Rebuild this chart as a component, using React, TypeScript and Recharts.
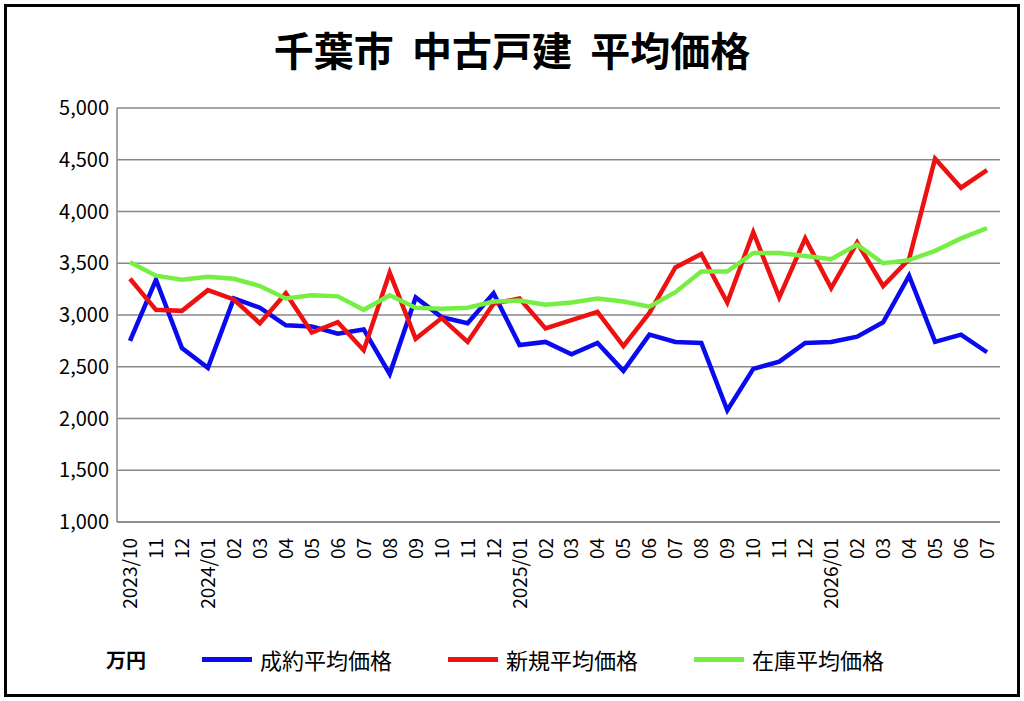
import { CartesianGrid, Line, LineChart, XAxis, YAxis } from 'recharts';

const months = [
  '2023/10', '11', '12', '2024/01', '02', '03', '04', '05', '06', '07', '08', '09', '10', '11', '12',
  '2025/01', '02', '03', '04', '05', '06', '07', '08', '09', '10', '11', '12',
  '2026/01', '02', '03', '04', '05', '06', '07',
];

const contracted = [
  2750, 3340, 2680, 2490, 3160, 3070, 2900, 2890, 2820, 2860, 2430, 3170, 2980, 2920, 3210,
  2710, 2740, 2620, 2730, 2460, 2810, 2740, 2730, 2080, 2480, 2550, 2730,
  2740, 2790, 2930, 3380, 2740, 2810, 2640,
];

const listed = [
  3350, 3050, 3040, 3240, 3150, 2920, 3210, 2830, 2930, 2660, 3410, 2770, 2970, 2740, 3110,
  3160, 2870, 2950, 3030, 2700, 3020, 3460, 3590, 3120, 3800, 3170, 3740,
  3260, 3700, 3280, 3540, 4510, 4230, 4400,
];

const stock = [
  3510, 3380, 3340, 3370, 3350, 3280, 3160, 3190, 3180, 3050, 3190, 3070, 3060, 3070, 3130,
  3140, 3100, 3120, 3160, 3130, 3080, 3220, 3420, 3420, 3600, 3600, 3570,
  3540, 3680, 3500, 3530, 3620, 3740, 3840,
];

const yTicks = [1000, 1500, 2000, 2500, 3000, 3500, 4000, 4500, 5000];

const series = [
  { key: 'contracted', name: '成約平均価格', color: '#0a0aef' },
  { key: 'listed', name: '新規平均価格', color: '#ee1111' },
  { key: 'stock', name: '在庫平均価格', color: '#77ee44' },
];

const data = months.map((m, i) => ({
  month: m,
  contracted: contracted[i],
  listed: listed[i],
  stock: stock[i],
}));

const font = '"Noto Sans CJK JP", "Noto Sans", sans-serif';

function MonthTick({ x, y, payload }: any) {
  return (
    <text x={x} y={y + 8} transform={`rotate(-90 ${x} ${y + 8})`} dy={7} textAnchor="end" fontSize={19} fill="#000" fontFamily={font}>
      {payload.value}
    </text>
  );
}

export default function App() {
  return (
    <div style={{ position: 'absolute', left: 0, top: 0, width: 1024, height: 701, background: '#fff', fontFamily: font }}>
      <div style={{ position: 'absolute', left: 4, top: 4, width: 1010, height: 687, border: '3px solid #000' }} />
      <div style={{ position: 'absolute', left: 0, top: 20, width: 1024, textAlign: 'center', fontSize: 40, fontWeight: 700, whiteSpace: 'pre' }}>
        {'千葉市  中古戸建  平均価格'}
      </div>
      <LineChart width={1024} height={701} data={data} margin={{ top: 108, right: 24, left: 52, bottom: 79 }}>
        <CartesianGrid vertical={false} stroke="#888" strokeWidth={1.5} />
        <XAxis
          dataKey="month"
          interval={0}
          tick={<MonthTick />}
          tickLine={false}
          axisLine={{ stroke: '#888', strokeWidth: 1.5 }}
          height={100}
          padding={{ left: 13, right: 13 }}
        />
        <YAxis
          domain={[1000, 5000]}
          ticks={yTicks}
          tickFormatter={(v: number) => v.toLocaleString('en-US')}
          tick={{ fontSize: 20, fill: '#000', fontFamily: font }}
          axisLine={{ stroke: '#888', strokeWidth: 1.5 }}
          tickLine={false}
          width={65}
        />
        {series.map((s) => (
          <Line
            key={s.key}
            dataKey={s.key}
            name={s.name}
            stroke={s.color}
            strokeWidth={4.5}
            dot={false}
            isAnimationActive={false}
          />
        ))}
      </LineChart>
      <div style={{ position: 'absolute', left: 106, top: 645, fontSize: 20, fontWeight: 700 }}>万円</div>
      {series.map((s, i) => (
        <div key={s.key} style={{ position: 'absolute', left: 202 + i * 246, top: 643, display: 'flex', alignItems: 'center', fontSize: 22 }}>
          <span style={{ display: 'inline-block', width: 50, height: 5, background: s.color, marginRight: 8 }} />
          {s.name}
        </div>
      ))}
    </div>
  );
}
